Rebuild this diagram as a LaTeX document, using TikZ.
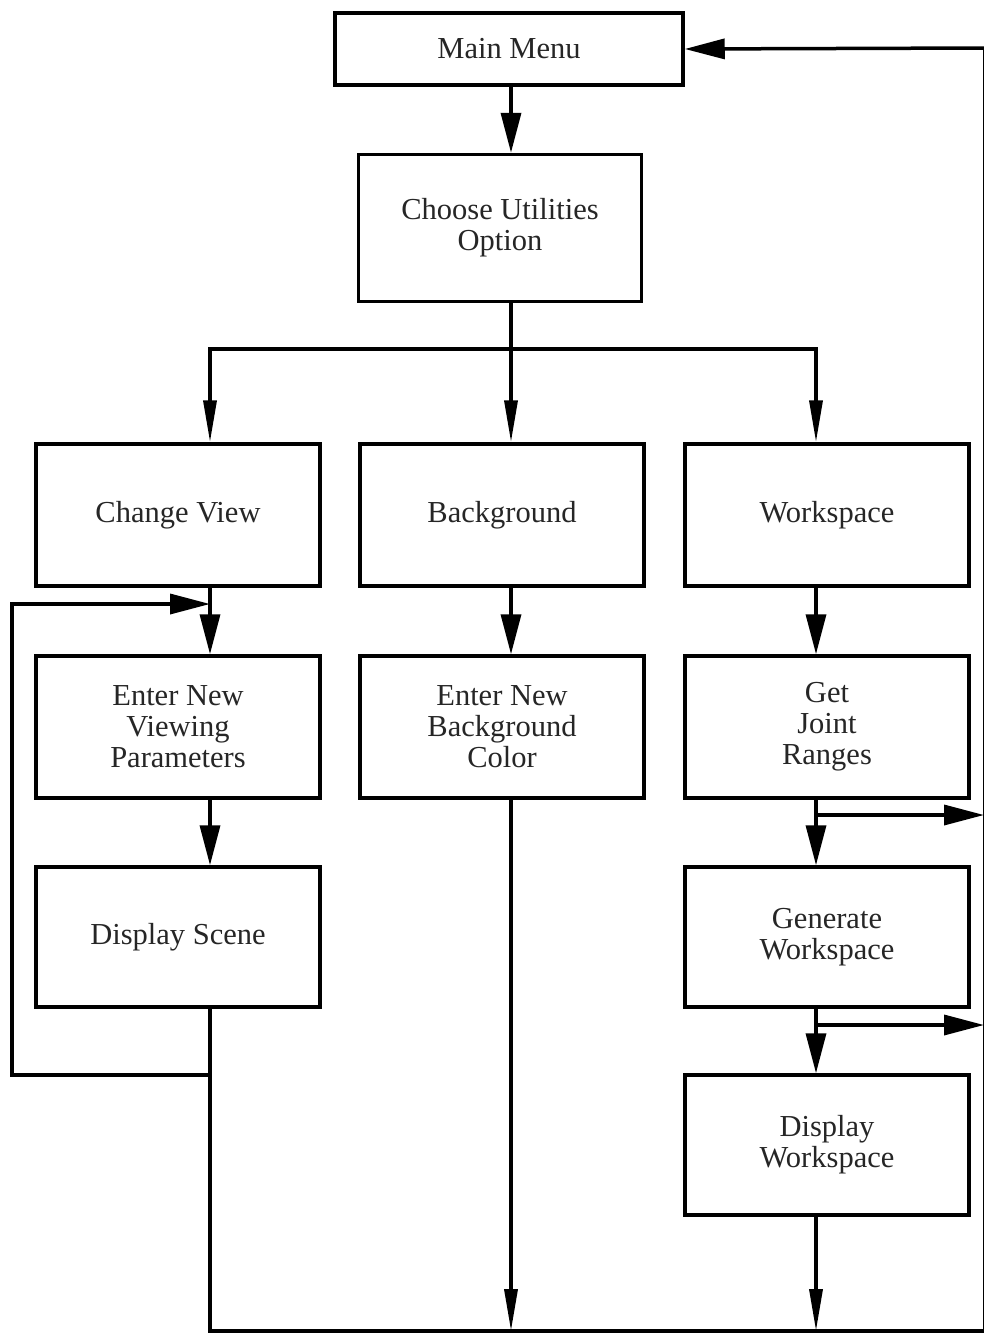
\documentclass[tikz,border=0pt]{standalone}
\usepackage{fontspec}
\setmainfont{Liberation Serif}
\usetikzlibrary{arrows.meta}
\usetikzlibrary{positioning}

\tikzset{
  flowbox/.style={draw,line width=3.5pt,minimum width=284pt,minimum height=142pt,
    align=center,inner sep=0pt,text=black!85,font=\fontsize{30.5}{31}\selectfont},
  flowline/.style={draw=black,line width=3.5pt},
  flowarrow/.style={flowline,-{Triangle[length=40pt,width=20pt]}},
  slimarrow/.style={flowline,-{Triangle[length=42pt,width=13pt]}}
}

\begin{document}
\begin{tikzpicture}[x=1pt,y=-1pt]
        \useasboundingbox (0,0) rectangle (984,1334);
        % boxes
        \begin{scope}[every node/.style={flowbox}]
        \node[minimum width=348pt,minimum height=72pt] (menu) at (509,49) {Main Menu};
        \node[minimum width=283pt,minimum height=147pt] (choose) at (500,228) {Choose Utilities\\Option};
        \node (cview) at (178,515) {Change View};
        \node (backgr) at (502,515) {Background};
        \node (wspace) at (827,515) {Workspace};
        \node (enterview) at (178,727) {Enter New\\Viewing\\Parameters};
        \node (enterbg) at (502,727) {Enter New\\Background\\Color};
        \node (joint) at (827,727) {Get\\Joint\\Ranges};
        \node[minimum height=140pt] (dscene) at (178,937) {Display Scene};
        \node[minimum height=140pt] (genws) at (827,937) {Generate\\Workspace};
        \node[minimum height=140pt] (dispws) at (827,1145) {Display\\Workspace};
        \end{scope}
        % helper points
        \coordinate (lcol) at (210,0);
        \coordinate (mcol) at (511,0);
        \coordinate (rcol) at (816,0);
        \coordinate (split) at (511,349);
        \coordinate (lbot) at (210,1075);
        \coordinate (lcorner) at (12,1075);
        \coordinate (ljoin) at (210,604);
        \coordinate (bl) at (210,1331);
        \coordinate (br) at (984.5,1331);
        \coordinate (tr) at (984.5,48);
        \coordinate (jout) at (984,815);
        \coordinate (gout) at (984,1025);
        % connectors
        \begin{scope}[every edge/.style={flowarrow}]
        \path (menu.south -| mcol) edge (choose.north -| mcol);
        \path (cview.south -| lcol) edge (enterview.north -| lcol);
        \path (enterview.south -| lcol) edge (dscene.north -| lcol);
        \path (backgr.south -| mcol) edge (enterbg.north -| mcol);
        \path (wspace.south -| rcol) edge (joint.north -| rcol);
        \path (joint.south -| rcol) edge (genws.north -| rcol);
        \path (genws.south -| rcol) edge (dispws.north -| rcol);
        \path (tr) edge (menu.east);
        \end{scope}
        \draw[flowline] (choose.south -| mcol) -- (split);
        \draw[slimarrow] (split) -| (cview.north -| lcol);
        \draw[slimarrow] (split) -- (backgr.north -| mcol);
        \draw[slimarrow] (split) -| (wspace.north -| rcol);
        \draw[flowarrow] (dscene.south -| lcol) |- (lcorner) |- (ljoin);
        \draw[flowline] (lbot) -- (bl) -- (br) -- (tr);
        \draw[slimarrow] (enterbg.south -| mcol) -- (mcol |- bl);
        \draw[slimarrow] (dispws.south -| rcol) -- (rcol |- bl);
        \draw[flowarrow] (joint.south -| rcol) |- (jout);
        \draw[flowarrow] (genws.south -| rcol) |- (gout);
\end{tikzpicture}
\end{document}
